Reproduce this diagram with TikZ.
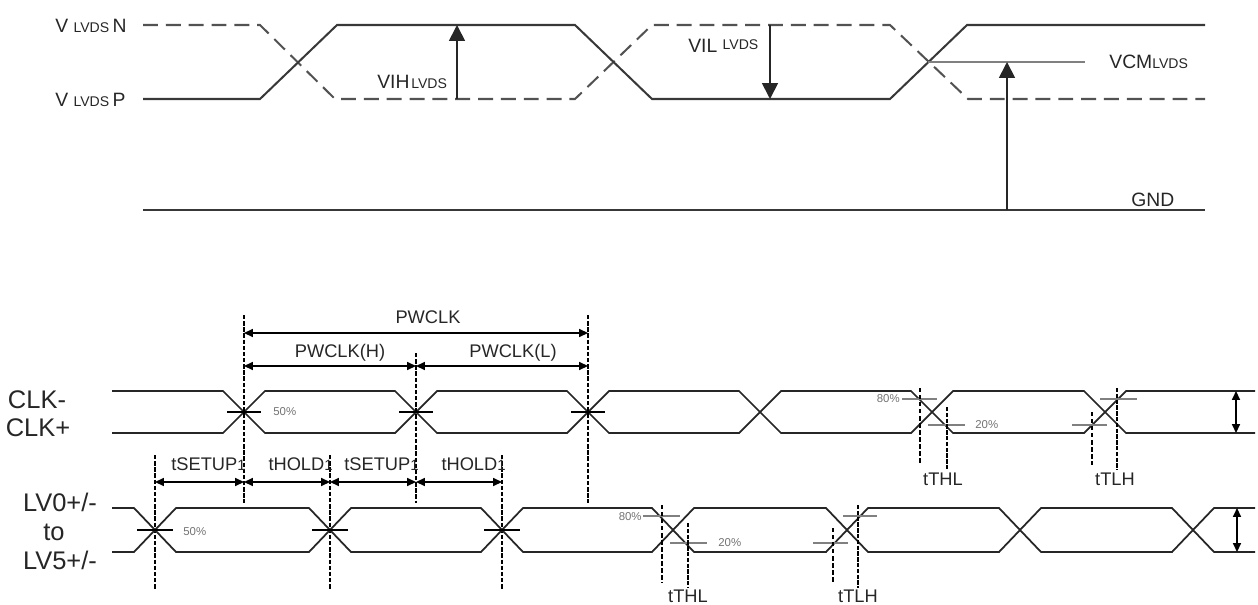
\documentclass[tikz,border=0pt]{standalone}
\usepackage{fontspec}
\setmainfont{Liberation Sans}
\usetikzlibrary{arrows.meta}
\newcommand{\fsz}[1]{\fontsize{#1}{#1}\selectfont}
\newcommand{\sm}{\fsz{8pt}}
\newcommand{\bg}{\fsz{11pt}}
\begin{document}
\begin{tikzpicture}[x=0.02cm,y=-0.02cm,
  topsig/.style={line width=1.15pt,draw=black!78},
  topdash/.style={line width=1.15pt,draw=black!68,dash pattern=on 8.5pt off 4.5pt},
  sig/.style={line width=1pt,draw=black!85},
  tline/.style={line width=1.1pt,draw=black,dash pattern=on 2.5pt off 1pt},
  tthick/.style={line width=1.6pt,draw=black,dash pattern=on 2.5pt off 0.8pt},
  tthin/.style={line width=0.8pt,draw=black,dash pattern=on 2.5pt off 1.5pt},
  tick/.style={line width=1.6pt,draw=black!50},
  star/.style={line width=0.9pt,draw=black},
  vcmline/.style={line width=1.3pt,draw=black!50},
  bigarrow/.style={line width=1pt,draw=black!85,-{Triangle[length=9pt,width=9pt]}},
  dim/.style={line width=0.8pt,draw=black,{Triangle[length=5pt,width=4.5pt]}-{Triangle[length=5pt,width=4.5pt]}},
  txt/.style={inner sep=0pt,text=black!85},
  pct/.style={inner sep=0pt,text=black!55,font=\fsz{6.5pt}},
  lbl/.style={inner sep=0pt,text=black!85,font=\fsz{10.4pt}},
  sidelbl/.style={inner sep=0pt,text=black!85,font=\fsz{14.5pt}}]
\useasboundingbox (0,0) rectangle (1258,605);

% ================= top diagram =================
\draw[topdash] (143,25) -- (260,25) -- (335,99) -- (575,99) -- (652,25) -- (890,25) -- (968,99) -- (1205,99);
\draw[topsig] (143,99) -- (260,99) -- (337,25) -- (575,25) -- (652,99) -- (890,99) -- (967,25) -- (1205,25);
\draw[topsig] (143,210) -- (1205,210);

\coordinate (vihB) at (457,99); \coordinate (vihT) at (457,25);
\coordinate (vilT) at (770,25); \coordinate (vilB) at (770,99);
\coordinate (cross3) at (928,62); \coordinate (vcmE) at (1085,62);
\coordinate (gndA) at (1007,210); \coordinate (vcmA) at (1007,62);
\draw[vcmline] (cross3) -- (vcmE);
\draw[bigarrow] (vihB) -- (vihT);
\draw[bigarrow] (vilT) -- (vilB);
\draw[bigarrow] (gndA) -- (vcmA);

\node[txt,anchor=base west] (labN) at (55,32) {\bg V\hspace{3pt}\sm LVDS\hspace{2pt}\bg N};
\node[txt,anchor=base west] (labP) at (55,106) {\bg V\hspace{3pt}\sm LVDS\hspace{2pt}\bg P};
\node[txt,anchor=base west] (labVIH) at (377,88) {\bg VIH\hspace{1pt}\sm LVDS};
\node[txt,anchor=base west] (labVIL) at (688,52) {\bg VIL\hspace{3pt}\raisebox{1.7pt}{\sm LVDS}};
\node[txt,anchor=base west] (labVCM) at (1109,68) {\bg VCM\sm LVDS};
\node[txt,anchor=base west] (labGND) at (1131,206) {\bg GND};

% ================= CLK =================
\draw[sig] (112,391) -- (223,391) -- (265,433) -- (395,433) -- (437,391) -- (567,391) -- (609,433) -- (739,433) -- (781,391) -- (911,391) -- (953,433) -- (1084,433) -- (1126,391) -- (1255,391);
\draw[sig] (112,433) -- (223,433) -- (265,391) -- (395,391) -- (437,433) -- (567,433) -- (609,391) -- (739,391) -- (781,433) -- (911,433) -- (953,391) -- (1084,391) -- (1126,433) -- (1255,433);

\foreach \cx in {244,416,588} \draw[star] (\cx-17,412) -- (\cx+17,412);
\draw[tline] (244,315) -- (244,503);
\draw[tline] (416,353) -- (416,503);
\draw[tline] (588,315) -- (588,503);

\coordinate (pwA) at (244,333); \coordinate (pwB) at (588,333);
\coordinate (pwhA) at (244,366); \coordinate (pwhB) at (416,366);
\coordinate (pwlA) at (416,366); \coordinate (pwlB) at (588,366);
\draw[dim] (pwA) -- (pwB);
\draw[dim] (pwhA) -- (pwhB);
\draw[dim] (pwlA) -- (pwlB);
\node[lbl] (lPW) at (428,317) {PWCLK};
\node[lbl] (lPWH) at (340,353) {PWCLK(H)};
\node[lbl] (lPWL) at (513,353) {PWCLK(L)};

% 80/20 ticks CLK
\draw[tick] (902,399) -- (937,399);
\draw[tick] (928,425) -- (965,425);
\draw[tick] (1072,425) -- (1107,425);
\draw[tick] (1100,399) -- (1137,399);
\draw[tthin] (920,388) -- (920,465);
\draw[tthick] (947,407) -- (947,470);
\draw[tthin] (1092,412) -- (1092,465);
\draw[tthick] (1117,388) -- (1117,470);
\node[pct,anchor=east] (c80) at (900,399) {80\%};
\node[pct,anchor=west] (c20) at (975,425) {20\%};
\node[pct,anchor=west] (c50) at (273,412) {50\%};
\node[lbl] (cTHL) at (943,479) {tTHL};
\node[lbl] (cTLH) at (1115,479) {tTLH};

\coordinate (clkArT) at (1236,391); \coordinate (clkArB) at (1236,433);
\draw[dim] (clkArT) -- (clkArB);

\node[sidelbl] (lCLKm) at (37,400) {CLK-};
\node[sidelbl] (lCLKp) at (38,428) {CLK+};

% ================= setup / hold =================
\draw[tline] (155,455) -- (155,590);
\draw[tline] (330,455) -- (330,590);
\draw[tline] (502,455) -- (502,590);
\coordinate (s1) at (155,482); \coordinate (s2) at (244,482);
\coordinate (s3) at (330,482); \coordinate (s4) at (416,482);
\coordinate (s5) at (502,482);
\draw[dim] (s1) -- (s2);
\draw[dim] (s2) -- (s3);
\draw[dim] (s3) -- (s4);
\draw[dim] (s4) -- (s5);
\node[lbl,anchor=base east] (lsu1) at (246,470) {tSETUP{\fsz{8.5pt}1}};
\node[lbl,anchor=base east] (lho1) at (333,470) {tHOLD{\fsz{8.5pt}1}};
\node[lbl,anchor=base east] (lsu2) at (419,470) {tSETUP{\fsz{8.5pt}1}};
\node[lbl,anchor=base east] (lho2) at (506,470) {tHOLD{\fsz{8.5pt}1}};

% ================= LV =================
\draw[sig] (112,508) -- (134,508) -- (176,552) -- (309,552) -- (351,508) -- (481,508) -- (523,552) -- (652,552) -- (694,508) -- (826,508) -- (868,552) -- (999,552) -- (1041,508) -- (1172,508) -- (1214,552) -- (1255,552);
\draw[sig] (112,552) -- (134,552) -- (176,508) -- (309,508) -- (351,552) -- (481,552) -- (523,508) -- (652,508) -- (694,552) -- (826,552) -- (868,508) -- (999,508) -- (1041,552) -- (1172,552) -- (1214,508) -- (1255,508);
\foreach \cx in {155,330,502} \draw[star] (\cx-18,530) -- (\cx+18,530);
\node[pct,anchor=west] (l50) at (183,532) {50\%};

\draw[tick] (643,516) -- (680,516);
\draw[tick] (670,543) -- (707,543);
\draw[tick] (813,543) -- (848,543);
\draw[tick] (843,516) -- (877,516);
\draw[tthin] (662,505) -- (662,583);
\draw[tthick] (688,523) -- (688,588);
\draw[tthin] (833,528) -- (833,582);
\draw[tthick] (858,505) -- (858,588);
\node[pct,anchor=east] (l80) at (642,517) {80\%};
\node[pct,anchor=west] (l20) at (718,543) {20\%};
\node[lbl] (lTHL) at (688,596) {tTHL};
\node[lbl] (lTLH) at (858,596) {tTLH};

\coordinate (lvArT) at (1237,508); \coordinate (lvArB) at (1237,552);
\draw[dim] (lvArT) -- (lvArB);

\node[sidelbl] (lLV0) at (60,502) {LV0+/-};
\node[sidelbl] (lto) at (54,532) {to};
\node[sidelbl] (lLV5) at (60,560) {LV5+/-};
\end{tikzpicture}
\end{document}
